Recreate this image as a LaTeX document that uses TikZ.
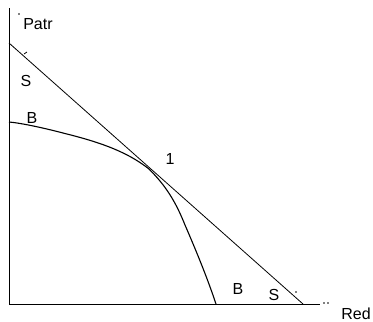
\documentclass[tikz,border=0pt]{standalone}
\usepackage{fontspec}
\setmainfont{Liberation Sans}
\begin{document}
\begin{tikzpicture}[x=1pt,y=-1pt,
  lbl/.style={font=\fontsize{16}{19}\selectfont, inner sep=0pt},
  axisline/.style={line width=1pt, black},
  thinline/.style={line width=0.8pt, black},
  curveline/.style={line width=1.1pt, black},
  speck/.style={fill=black, circle, inner sep=0pt, minimum size=1.6pt}]
\useasboundingbox (0,0) rectangle (373,322);
% axes
\coordinate (top) at (9,8);
\coordinate (origin) at (9,304);
\coordinate (xend) at (320,304);
\draw[axisline] (top) -- (origin) -- (xend);
\node[speck] (d1) at (324,303) {};
\node[speck] (d2) at (328,303) {};
\node[speck] (d3) at (19,14) {};
\node[speck] (d4) at (296,292) {};
% straight line S
\coordinate (s1) at (9,43);
\coordinate (s2) at (303,304);
\draw[thinline] (s1) -- (s2);
\draw[thinline] (24,54) -- (27,52);
% curve B
\coordinate (b1) at (9,122);
\coordinate (t) at (149,169);
\coordinate (b2) at (216,304);
\draw[curveline] (b1) .. controls (20,123) and (40,127) .. (63,133)
  .. controls (95,141) and (125,150) .. (t)
  .. controls (165,185) and (175,200) .. (185,225)
  .. controls (198,255) and (208,280) .. (b2);
% labels
\node[lbl] (patr) at (38,24) {Patr};
\node[lbl] (red) at (356,314) {Red};
\node[lbl] (sa) at (26,81) {S};
\node[lbl] (ba) at (32,118) {B};
\node[lbl] (one) at (170,159) {1};
\node[lbl] (bb) at (238,289) {B};
\node[lbl] (sb) at (274,295) {S};
\end{tikzpicture}
\end{document}
